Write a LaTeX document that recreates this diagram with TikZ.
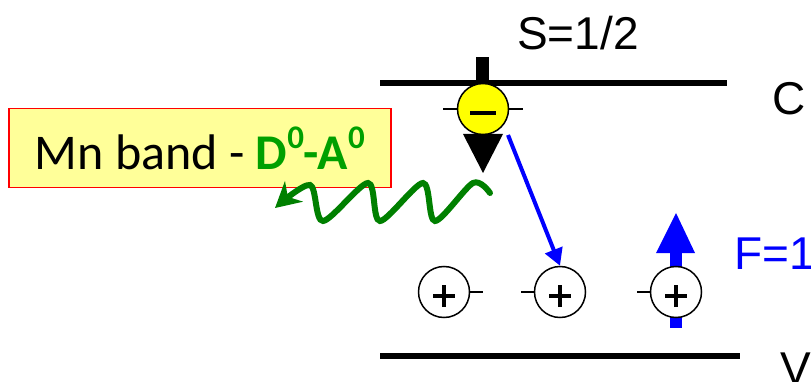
\documentclass[tikz,border=0pt]{standalone}
\usepackage{fontspec}
\setmainfont{Liberation Sans}
\newfontfamily\calibrifont{Carlito}
\usetikzlibrary{arrows.meta}
\definecolor{boxfill}{HTML}{FFFF99}
\definecolor{boxred}{HTML}{FF0000}
\definecolor{wavegreen}{HTML}{008000}
\definecolor{textgreen}{HTML}{00A000}
\definecolor{spinblue}{HTML}{0000FF}
\definecolor{elyellow}{HTML}{FFFF00}
\tikzset{
  band/.style={line width=6pt, black},
  bigtext/.style={font=\fontsize{46}{50}\selectfont, inner sep=0pt, anchor=base west},
  carrier/.style={circle, draw=black, line width=1.5pt, minimum size=51pt, inner sep=0pt},
  tick/.style={line width=1.5pt, black},
  signline/.style={line width=3.5pt, black},
  mnbox/.style={draw=boxred, line width=1.5pt, fill=boxfill, minimum width=382pt, minimum height=79pt, inner sep=0pt, anchor=north west, font=\calibrifont\fontsize{50}{54}\selectfont},
  wave/.style={wavegreen, line width=6pt, line cap=round, -{Stealth[length=25pt,width=27pt,inset=8pt]}},
  bluearrow/.style={spinblue, line width=4pt, -{Triangle[length=17pt,width=18pt]}},
}
\newcommand{\supz}{\raisebox{0.42em}{\fontsize{33}{36}\selectfont 0}}
\begin{document}
\begin{tikzpicture}[x=1pt,y=-1pt]
\useasboundingbox (0,0) rectangle (811,382);

% bands
\draw[band] (380,83) -- (727,83);
\draw[band] (380,356) -- (740,356);

% labels
\node[bigtext] (slab) at (517,50) {S=1/2};
\node[bigtext] (clab) at (772,115) {C};
\node[bigtext] (vlab) at (780,384) {V};
\node[bigtext, text=spinblue] (flab) at (734,269) {F=1};

% Mn band box
\node[mnbox] (mn) at (8,108) {Mn band - \textcolor{textgreen}{\textbf{D\supz-A\supz}}};

% electron spin (down) arrow
\fill[black] (476,57) rectangle (489,84);
\fill[black] (463,134) -- (503,134) -- (483,173) -- cycle;

% hole spin (up) arrow
\fill[spinblue] (670,253) rectangle (682,328);
\fill[spinblue] (656,253) -- (695,253) -- (676,213) -- cycle;

% electron
\node[carrier, fill=elyellow] (e) at (483,109) {};
\draw[tick] (e.west) -- ++(-14,0);
\draw[tick] (e.east) -- ++(14,0);
\draw[signline] (470,113) -- (496,113);

% holes
\node[carrier, fill=white] (h1) at (444,292) {};
\node[carrier, fill=white] (h2) at (560,292) {};
\node[carrier, fill=white] (h3) at (676,292) {};
\draw[tick] (h1.east) -- ++(13,0);
\draw[tick] (h2.west) -- ++(-13,0);
\draw[tick] (h3.west) -- ++(-13,0);
\foreach \h in {h1,h2,h3}{
  \draw[signline] ([xshift=-11pt,yshift=-4pt]\h.center) -- ([xshift=11pt,yshift=-4pt]\h.center);
  \draw[signline] ([yshift=-15pt]\h.center) -- ([yshift=7pt]\h.center);
}

% transition arrow
\coordinate (bstart) at (508,135);
\draw[bluearrow] (bstart) -- (h2.north);

% photon
\coordinate (w0) at (490,193);
\coordinate (w1) at (275,208);
\draw[wave] plot[smooth, tension=0.5] coordinates {(w0) (473,183) (435,221) (423,183) (380,221) (368,183) (323,221) (310,185) (w1)};
\end{tikzpicture}
\end{document}
